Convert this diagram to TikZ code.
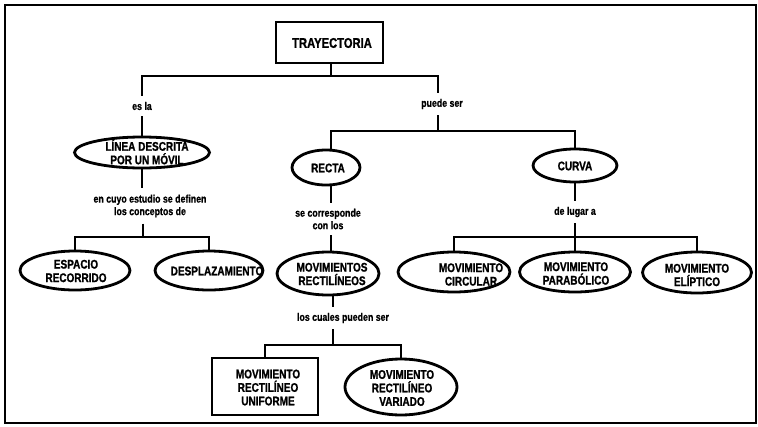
\documentclass[tikz,border=0pt]{standalone}
\usepackage{fontspec}
\usetikzlibrary{shapes.geometric}
\newfontfamily\cfb[FakeStretch=0.8,FakeBold=1.2]{Liberation Sans Bold}
\newfontfamily\cfl[FakeStretch=0.8,FakeBold=0.8]{Liberation Sans Bold}
\tikzset{
  every picture/.style={x=1pt,y=-1pt},
  conn/.style={line width=2.8pt},
  ov/.style={ellipse,draw,line width=2.8pt,inner sep=0pt},
  bx/.style={rectangle,draw,line width=2.8pt,inner sep=0pt},
  ntext/.style={font=\cfb\fontsize{12.5}{13.5}\selectfont,align=center,inner sep=0pt},
  lbl/.style={font=\cfl\fontsize{11}{12.5}\selectfont,align=center,inner xsep=0pt,inner ysep=6pt},
}
\begin{document}
\begin{tikzpicture}
\useasboundingbox (0,0) rectangle (758,426);
\draw[line width=2pt] (5,5) rectangle (756,423);

% top
\node[bx,minimum width=107,minimum height=41] (tray) at (329.5,42.5) {};
\node[ntext,font=\cfb\fontsize{14}{15}\selectfont] (trayT) at (332,43) {TRAYECTORIA};
\coordinate (j1) at (331,76);
\node[lbl] (esla) at (142,106) {es la};
\node[lbl] (puede) at (442,104) {puede ser};

% left branch
\node[ov,minimum width=135,minimum height=31] (linea) at (142,152.5) {};
\node[ntext] (lineaT) at (147,152) {LÍNEA DESCRITA\\POR UN MÓVIL};
\node[lbl] (cuyo) at (150,206) {en cuyo estudio se definen\\los conceptos de};
\coordinate (j3) at (143,237);
\node[ov,minimum width=110,minimum height=39] (esp) at (75,270.5) {};
\node[ntext] (espT) at (76,271) {ESPACIO\\RECORRIDO};
\node[ov,minimum width=108,minimum height=39] (desp) at (209,270.5) {};
\node[ntext] (despT) at (217,271) {DESPLAZAMIENTO};

% middle branch
\coordinate (j2) at (438,131);
\node[ov,minimum width=68,minimum height=35] (recta) at (326,167.5) {};
\node[ntext] (rectaT) at (328,168) {RECTA};
\node[lbl] (secorr) at (328,219) {se corresponde\\con los};
\node[ov,minimum width=102,minimum height=43] (movrect) at (328,273.5) {};
\node[ntext] (movrectT) at (332,274) {MOVIMIENTOS\\RECTILÍNEOS};
\node[lbl] (cuales) at (343,318) {los cuales pueden ser};
\coordinate (j4) at (333,345);
\node[bx,minimum width=106,minimum height=57] (unif) at (265,386.5) {};
\node[ntext] (unifT) at (268,387.5) {MOVIMIENTO\\RECTILÍNEO\\UNIFORME};
\node[ov,minimum width=112,minimum height=56] (var) at (401,387) {};
\node[ntext] (varT) at (402,388) {MOVIMIENTO\\RECTILÍNEO\\VARIADO};

% right branch
\node[ov,minimum width=84,minimum height=33] (curva) at (575,165.5) {};
\node[ntext] (curvaT) at (575,166) {CURVA};
\node[lbl] (lugar) at (575,212) {de lugar a};
\coordinate (j5) at (575,237);
\node[ov,minimum width=112,minimum height=40] (circ) at (454,272) {};
\node[ntext] (circT) at (471,274.5) {MOVIMIENTO\\CIRCULAR};
\node[ov,minimum width=111,minimum height=40] (parab) at (575,272) {};
\node[ntext] (parabT) at (576,273.5) {MOVIMIENTO\\PARABÓLICO};
\node[ov,minimum width=109,minimum height=41] (elip) at (697,272.5) {};
\node[ntext] (elipT) at (697,275) {MOVIMIENTO\\ELÍPTICO};

% connectors
\draw[conn] (tray.south -| j1) -- (j1);
\draw[conn] (esla.north) -- (esla.north |- j1) -- (j2 |- j1) -- (j2 |- puede.north);
\draw[conn] (esla.south) -- (linea.north);
\draw[conn] (j2 |- puede.south) -- (j2);
\draw[conn] (recta.north -| j1) -- (j1 |- j2) -- (curva.north |- j2) -- (curva.north);
\draw[conn] (linea.south) -- (linea.south |- cuyo.north);
\draw[conn] (j3 |- cuyo.south) -- (j3);
\draw[conn] (esp.north) -- (esp.north |- j3) -- (desp.north |- j3) -- (desp.north);
\draw[conn] (recta.south -| j1) -- (j1 |- secorr.north);
\draw[conn] (j1 |- secorr.south) -- (j1 |- movrect.north);
\draw[conn] (j4 |- movrect.south) -- (j4 |- cuales.north);
\draw[conn] (j4 |- cuales.south) -- (j4);
\draw[conn] (unif.north) -- (unif.north |- j4) -- (var.north |- j4) -- (var.north);
\draw[conn] (curva.south) -- (lugar.north);
\draw[conn] (lugar.south) -- (parab.north);
\draw[conn] (circ.north) -- (circ.north |- j5) -- (elip.north |- j5) -- (elip.north);
\end{tikzpicture}
\end{document}
